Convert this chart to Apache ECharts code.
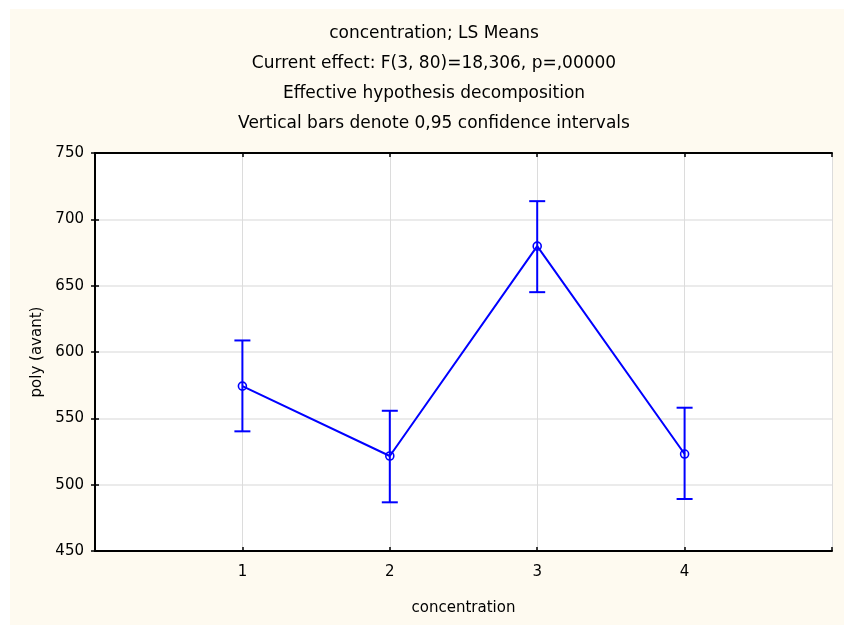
<!DOCTYPE html>
<html>
<head>
<meta charset="utf-8">
<script src="https://cdn.jsdelivr.net/npm/echarts@6/dist/echarts.min.js"></script>
<style>html,body{margin:0;padding:0;background:#fff}#c{width:844px;height:625px}</style>
</head>
<body>
<div id="c"></div>
<script>
const titleLines = ['concentration; LS Means','Current effect: F(3, 80)=18,306, p=,00000','Effective hypothesis decomposition','Vertical bars denote 0,95 confidence intervals'];
const categories = [1, 2, 3, 4];
const means = [574.3, 521.6, 679.8, 523.1];
const upper = [608.7, 555.7, 713.7, 558.0];
const lower = [540.2, 486.7, 645.1, 489.2];
const yTicks = {min: 450, max: 750, interval: 50};
const xName = 'concentration';
const yName = 'poly (avant)';

const FONT = '"DejaVu Sans", Verdana, sans-serif';
const BLUE = '#0000ff';
const chart = echarts.init(document.getElementById('c'));

const lineData = categories.map((c, i) => [c, means[i]]);
const errData = categories.map((c, i) => [c, lower[i], upper[i]]);

const graphics = [{
  type: 'rect', shape: {x: 10, y: 9, width: 834, height: 616}, style: {fill: '#fefaf0'}, z: -10, silent: true
}];
titleLines.forEach((t, i) => {
  graphics.push({type: 'text', x: 434, y: 34 + i * 30, style: {text: t, fill: '#000', font: '17px ' + FONT, textAlign: 'center', textVerticalAlign: 'middle'}});
});

const baseX = {
  type: 'value', min: 0, max: 5, interval: 1,
  axisLine: {show: true, lineStyle: {color: '#000', width: 2}},
  axisTick: {show: true, inside: true, length: 4, lineStyle: {color: '#000', width: 1.5}},
  splitLine: {show: false}
};
const baseY = {
  type: 'value', min: yTicks.min, max: yTicks.max, interval: yTicks.interval,
  axisLine: {show: true, lineStyle: {color: '#000', width: 2}},
  axisTick: {show: true, inside: true, length: 4, lineStyle: {color: '#000', width: 1.5}},
  splitLine: {show: false}
};

chart.setOption({
  animation: false,
  backgroundColor: '#fff',
  graphic: graphics,
  grid: {left: 95, right: 12, top: 153, bottom: 74, show: true, backgroundColor: '#fff', borderColor: '#000', borderWidth: 0},
  xAxis: [
    Object.assign({}, baseX, {
      position: 'bottom',
      name: xName, nameLocation: 'middle', nameGap: 50,
      nameTextStyle: {fontFamily: FONT, fontSize: 15, color: '#000'},
      axisLabel: {show: true, margin: 14, fontFamily: FONT, fontSize: 15, color: '#000',
        formatter: v => categories.includes(v) ? String(v) : ''},
      splitLine: {show: true, lineStyle: {color: '#dcdcdc', width: 1}}
    }),
    Object.assign({}, baseX, {position: 'top', axisLabel: {show: false}})
  ],
  yAxis: [
    Object.assign({}, baseY, {
      position: 'left',
      name: yName, nameLocation: 'middle', nameGap: 50, nameRotate: 90,
      nameTextStyle: {fontFamily: FONT, fontSize: 15, color: '#000'},
      axisLabel: {show: true, margin: 11, fontFamily: FONT, fontSize: 15, color: '#000'},
      splitLine: {show: true, lineStyle: {color: '#e4e4e4', width: 1.5}}
    }),
    Object.assign({}, baseY, {position: 'right', axisLabel: {show: false}})
  ],
  series: [
    {
      type: 'custom',
      xAxisIndex: 0, yAxisIndex: 0,
      data: errData,
      z: 3,
      renderItem: function (params, api) {
        const x = api.value(0);
        const lo = api.coord([x, api.value(1)]);
        const hi = api.coord([x, api.value(2)]);
        const hw = 8;
        const st = {stroke: BLUE, lineWidth: 2, fill: 'none'};
        return {type: 'group', children: [
          {type: 'line', shape: {x1: lo[0], y1: lo[1], x2: hi[0], y2: hi[1]}, style: st},
          {type: 'line', shape: {x1: lo[0] - hw, y1: lo[1], x2: lo[0] + hw, y2: lo[1]}, style: st},
          {type: 'line', shape: {x1: hi[0] - hw, y1: hi[1], x2: hi[0] + hw, y2: hi[1]}, style: st}
        ]};
      }
    },
    {
      type: 'line',
      xAxisIndex: 0, yAxisIndex: 0,
      data: lineData,
      z: 4,
      lineStyle: {color: BLUE, width: 2},
      symbol: 'circle', symbolSize: 8,
      itemStyle: {color: 'rgba(0,0,0,0)', borderColor: BLUE, borderWidth: 1.6}
    }
  ]
});
</script>
</body>
</html>
